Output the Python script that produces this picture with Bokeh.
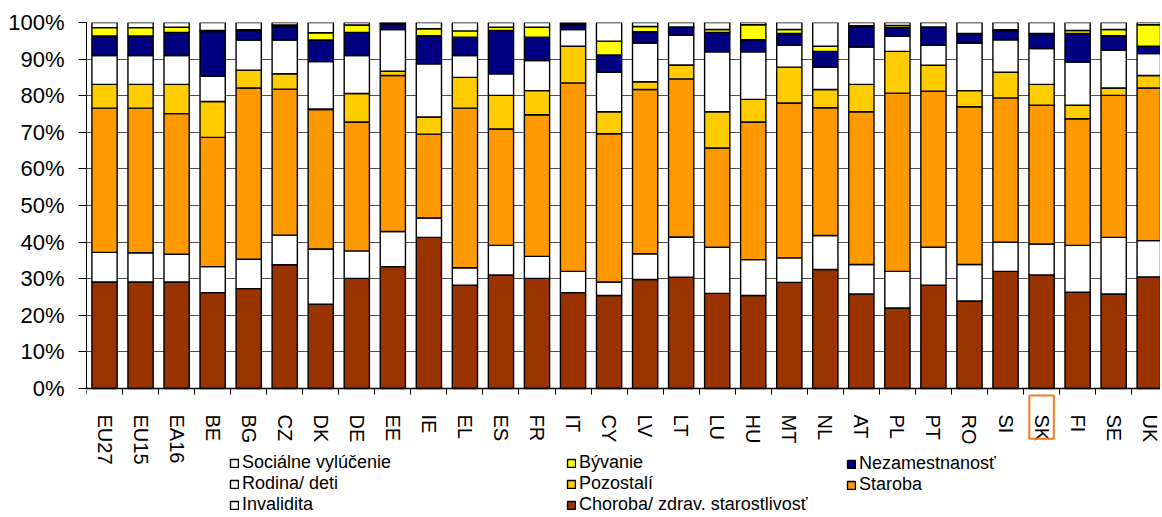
from bokeh.plotting import figure
from bokeh.models import (ColumnDataSource, Range1d, FixedTicker, PrintfTickFormatter,
                          Legend, LegendItem, BoxAnnotation)
from bokeh.embed import file_html
from bokeh.resources import INLINE

countries = ["EU27", "EU15", "EA16", "BE", "BG", "CZ", "DK", "DE", "EE", "IE",
             "EL", "ES", "FR", "IT", "CY", "LV", "LT", "LU", "HU", "MT",
             "NL", "AT", "PL", "PT", "RO", "SI", "SK", "FI", "SE", "UK"]

choroba = [29.1, 29.1, 29.1, 26.2, 27.3, 33.8, 23.0, 30.1, 33.3, 41.3,
           28.2, 31.0, 30.1, 26.2, 25.4, 29.8, 30.4, 26.0, 25.4, 29.0,
           32.5, 25.8, 22.0, 28.2, 23.9, 32.0, 31.0, 26.3, 25.8, 30.5]
invalidita = [8.1, 8.0, 7.6, 7.1, 8.0, 8.1, 15.1, 7.5, 9.6, 5.3,
              4.8, 8.1, 6.0, 5.8, 3.7, 7.0, 11.0, 12.6, 9.8, 6.7,
              9.3, 8.1, 10.0, 10.4, 10.0, 8.0, 8.5, 12.8, 15.5, 9.9]
staroba = [39.4, 39.5, 38.4, 35.3, 46.8, 39.9, 38.1, 35.2, 42.6, 22.9,
           43.6, 31.8, 38.7, 51.5, 40.5, 44.9, 43.2, 27.1, 37.6, 42.3,
           34.9, 41.7, 48.7, 42.6, 43.1, 39.4, 37.9, 34.6, 38.8, 41.7]
pozostali = [6.5, 6.5, 8.0, 9.8, 4.9, 4.2, 0.2, 7.8, 1.2, 4.7,
             8.4, 9.2, 6.6, 10.0, 6.0, 2.1, 3.8, 9.9, 6.2, 9.8,
             5.0, 7.5, 11.4, 7.1, 4.4, 7.0, 5.7, 3.7, 2.0, 3.4]
rodina = [7.9, 7.9, 7.9, 6.9, 8.2, 9.2, 12.9, 10.4, 11.4, 14.5,
          6.0, 5.9, 8.2, 4.6, 10.8, 10.6, 8.1, 16.4, 13.0, 6.0,
          6.1, 10.2, 4.1, 5.5, 13.0, 8.9, 9.8, 11.8, 10.3, 6.0]
nezamestnanost = [5.3, 5.3, 6.3, 12.2, 2.6, 3.7, 5.9, 6.3, 1.5, 7.7,
                  5.0, 11.8, 6.4, 1.2, 4.7, 3.1, 2.2, 5.3, 3.3, 3.2,
                  4.3, 5.4, 2.4, 4.9, 2.6, 2.4, 4.1, 7.8, 4.0, 2.0]
byvanie = [2.3, 2.3, 1.4, 0.3, 0.2, 0.4, 2.0, 2.0, 0.2, 1.9,
           1.7, 0.9, 2.7, 0.3, 3.8, 1.4, 0.1, 0.8, 4.1, 1.1,
           1.4, 0.4, 0.6, 0.1, 0.0, 0.3, 0.0, 0.8, 1.7, 5.9]
socialne = [1.4, 1.4, 1.3, 2.2, 2.0, 0.7, 2.8, 0.7, 0.2, 1.7,
            2.3, 1.3, 1.3, 0.4, 5.1, 1.1, 1.2, 1.9, 0.6, 1.9,
            6.5, 0.9, 0.8, 1.2, 3.0, 2.0, 3.0, 2.2, 1.9, 0.6]

series_keys = ["choroba", "invalidita", "staroba", "pozostali", "rodina",
               "nezamestnanost", "byvanie", "socialne"]
series_names = ["Choroba/ zdrav. starostlivosť", "Invalidita", "Staroba", "Pozostalí",
                "Rodina/ deti", "Nezamestnanosť", "Bývanie", "Sociálne vylúčenie"]
series_colors = ["#993300", "#FFFFFF", "#FF9900", "#FFCC00",
                 "#FFFFFF", "#000080", "#FFFF00", "#FFFFFF"]
y_ticks = [0, 10, 20, 30, 40, 50, 60, 70, 80, 90, 100]

n = len(countries)
xpos = [i + 0.5 for i in range(n)]
source = ColumnDataSource(dict(x=xpos, choroba=choroba, invalidita=invalidita,
                               staroba=staroba, pozostali=pozostali, rodina=rodina,
                               nezamestnanost=nezamestnanost, byvanie=byvanie,
                               socialne=socialne))

FONT = "Liberation Sans"
W, H = 1160, 515
TOP = 22
PX_PER_UNIT = 3.66
frame_h = H - TOP
y_min = 100 - frame_h / PX_PER_UNIT

# the original chart runs slightly past the right edge of the picture
p = figure(width=W, height=H, output_backend="svg", toolbar_location=None,
           x_range=Range1d(0, n - 0.2), y_range=Range1d(y_min, 100),
           min_border_left=86, min_border_right=0, min_border_top=TOP,
           min_border_bottom=0)
p.outline_line_color = None
p.background_fill_color = "white"

rs = p.vbar_stack(series_keys, x="x", width=0.7, color=series_colors,
                  line_color="black", line_width=1.4, source=source)

# x axis drawn at y = 0 inside the frame
xa = p.xaxis[0]
xa.fixed_location = 0
xa.ticker = FixedTicker(ticks=xpos, minor_ticks=list(range(n + 1)))
xa.major_label_overrides = {x: c for x, c in zip(xpos, countries)}
xa.major_label_orientation = "vertical"
xa.major_tick_line_color = None
xa.major_tick_out = 0
xa.major_tick_in = 0
xa.minor_tick_line_color = "black"
xa.minor_tick_out = 6
xa.minor_tick_in = 0
xa.major_label_standoff = 20
xa.major_label_text_font = FONT
xa.major_label_text_font_size = "20px"
xa.major_label_text_color = "black"
xa.axis_line_color = "black"
xa.axis_line_width = 1.5

ya = p.yaxis[0]
ya.bounds = (0, 100)
ya.ticker = FixedTicker(ticks=y_ticks)
ya.formatter = PrintfTickFormatter(format="%d%%")
ya.major_tick_out = 8
ya.major_tick_in = 0
ya.minor_tick_line_color = None
ya.major_label_standoff = 14
ya.major_label_text_font = FONT
ya.major_label_text_font_size = "22px"
ya.major_label_text_color = "black"
ya.axis_line_color = "black"

p.xgrid.grid_line_color = None
p.ygrid.grid_line_color = "#505050"
p.ygrid.grid_line_width = 1.2

# legends (three columns, row-wise order as in the original)
groups = [[7, 4, 1], [6, 3, 0], [5, 2]]
xs = [143, 480, 760]
ys = [0, 0, 20]
for g, lx, ly in zip(groups, xs, ys):
    leg = Legend(items=[LegendItem(label=series_names[k], renderers=[rs[k]]) for k in g],
                 location=(lx, ly), orientation="vertical")
    leg.border_line_color = None
    leg.background_fill_alpha = 0
    leg.padding = 0
    leg.margin = 0
    leg.spacing = -1
    leg.glyph_width = 10
    leg.glyph_height = 10
    leg.label_height = 20
    leg.label_standoff = 3
    leg.label_text_font = FONT
    leg.label_text_font_size = "18px"
    leg.label_text_color = "black"
    p.add_layout(leg, "center")

# highlight box around the SK label
sk = countries.index("SK") + 0.5
box = BoxAnnotation(left=sk - 0.34, right=sk + 0.34, top=-1.9, bottom=-13.7,
                    fill_alpha=0, line_color="#F47B20", line_alpha=1.0, line_width=2)
p.add_layout(box)

open("out.html", "w").write(file_html(p, INLINE))
